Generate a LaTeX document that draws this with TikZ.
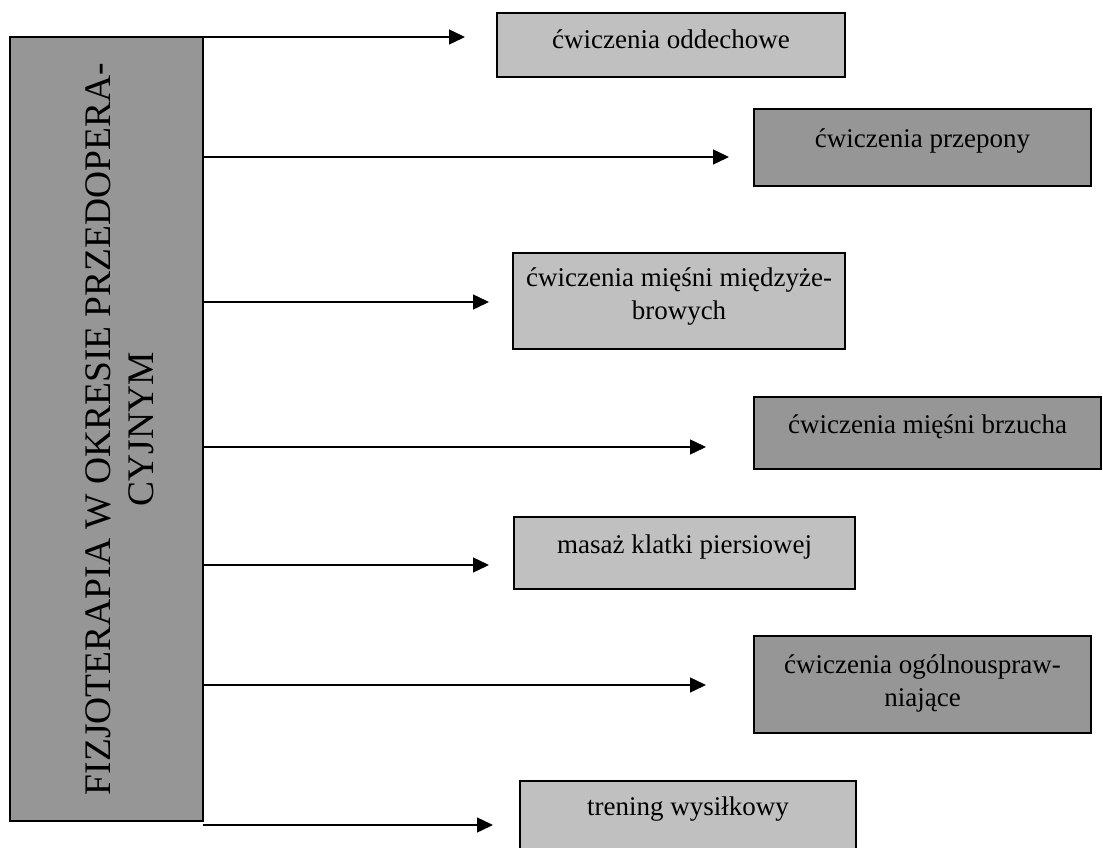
\documentclass[tikz,border=0pt]{standalone}
\usepackage{fontspec}
\setmainfont{Liberation Serif}
\usetikzlibrary{arrows.meta,positioning}
\definecolor{lightgrey}{HTML}{C0C0C0}
\definecolor{darkgrey}{HTML}{969696}
\begin{document}
\begin{tikzpicture}[x=1pt,y=-1pt,inner sep=0pt,outer sep=0pt,
catbox/.style={draw,rectangle,line width=1.5pt,anchor=north west},
lightbox/.style={catbox,fill=lightgrey},
darkbox/.style={catbox,fill=darkgrey},
boxtext/.style={anchor=base,align=center,font=\fontsize{27}{33}\selectfont},
arr/.style={-{Triangle[length=16pt,width=15pt]},line width=1.4pt}]
\useasboundingbox (0,0) rectangle (1103,848);
\node[darkbox,minimum width=193pt,minimum height=784pt] (L) at (10,37) {};
% base anchor sits on the last line (CYJNYM)
\node[rotate=90,anchor=base,align=center,font=\fontsize{37.5}{43}\selectfont] (Ltxt) at ([xshift=143pt]L.west) {FIZJOTERAPIA W OKRESIE PRZEDOPERA-\\CYJNYM};
\node[lightbox,minimum width=348pt,minimum height=64pt] (B1) at (497,13) {};
\node[darkbox,minimum width=337pt,minimum height=77pt] (B2) at (754,109) {};
\node[lightbox,minimum width=332pt,minimum height=96pt] (B3) at (513,253) {};
\node[darkbox,minimum width=347pt,minimum height=72pt] (B4) at (754,397) {};
\node[lightbox,minimum width=341pt,minimum height=72pt] (B5) at (514,517) {};
\node[darkbox,minimum width=337pt,minimum height=97pt] (B6) at (754,636) {};
\node[lightbox,minimum width=336pt,minimum height=80pt] (B7) at (520,781) {};
\node[boxtext] (T1) at ([yshift=-36pt]B1.north) {ćwiczenia oddechowe};
\node[boxtext] (T2) at ([yshift=-38pt]B2.north) {ćwiczenia przepony};
\node[boxtext] (T3) at ([yshift=-66pt]B3.north) {ćwiczenia mięśni międzyże-\\browych};
\node[boxtext] (T4) at ([yshift=-36pt]B4.north) {ćwiczenia mięśni brzucha};
\node[boxtext] (T5) at ([yshift=-36pt]B5.north) {masaż klatki piersiowej};
\node[boxtext] (T6) at ([yshift=-70pt]B6.north) {ćwiczenia ogólnouspraw-\\niające};
\node[boxtext] (T7) at ([yshift=-34pt]B7.north) {trening wysiłkowy};
\coordinate (p1) at (465,37);
\coordinate (p2) at (729,157);
\coordinate (p3) at (489,302);
\coordinate (p4) at (706,447);
\coordinate (p5) at (489,565);
\coordinate (p6) at (706,685);
\coordinate (p7) at (493,825);
\draw[arr] (L.east |- p1) -- (p1);
\draw[arr] (L.east |- p2) -- (p2);
\draw[arr] (L.east |- p3) -- (p3);
\draw[arr] (L.east |- p4) -- (p4);
\draw[arr] (L.east |- p5) -- (p5);
\draw[arr] (L.east |- p6) -- (p6);
\draw[arr] (L.east |- p7) -- (p7);
\end{tikzpicture}
\end{document}
